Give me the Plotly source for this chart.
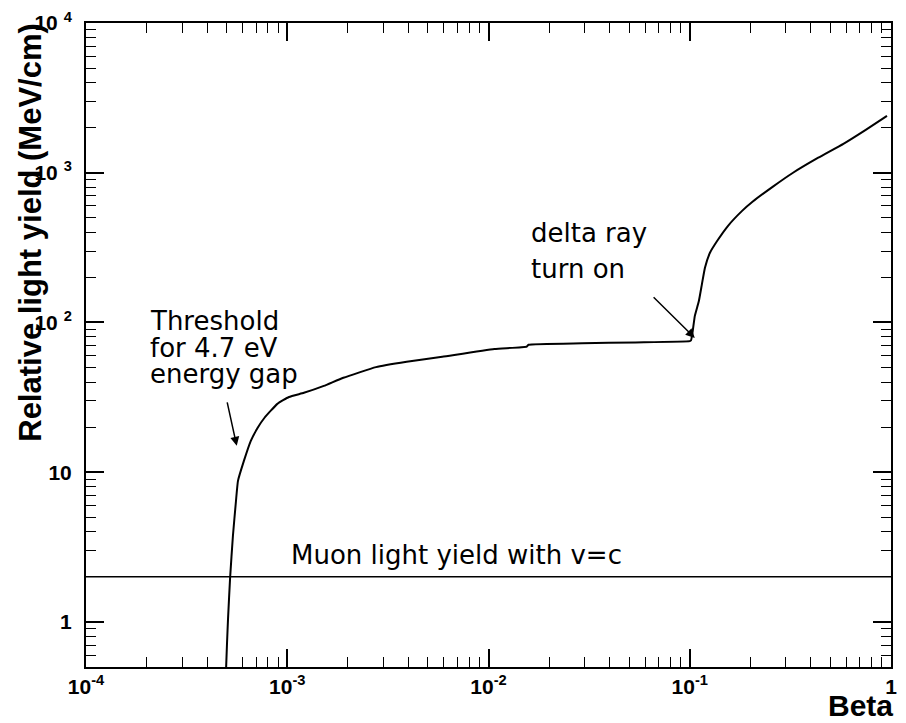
import numpy as np
import plotly.graph_objects as go

# ---- data ----
beta = [4.97e-4, 5.02e-4, 5.08e-4, 5.20e-4, 5.37e-4, 5.56e-4, 5.69e-4, 6.09e-4,
        6.59e-4, 7.13e-4, 7.71e-4, 8.93e-4, 1.02e-3, 1.21e-3, 1.52e-3, 1.90e-3,
        2.76e-3, 3.92e-3, 5.89e-3, 1.07e-2, 1.55e-2, 1.58e-2, 2.92e-2, 5.37e-2,
        0.1, 0.1015, 0.1035, 0.106, 0.111, 0.115, 0.119, 0.126, 0.137, 0.155,
        0.182, 0.205, 0.258, 0.326, 0.435, 0.580, 0.749, 0.955]
light_yield = [0.5, 0.724, 1.06, 1.97, 3.75, 6.4, 8.75, 11.9,
               16.2, 19.8, 23.1, 28.6, 31.8, 33.9, 37.7, 42.7,
               50.3, 54.6, 59.0, 66.5, 69.0, 71.0, 72.6, 73.6,
               75.0, 76.0, 88.0, 110.7, 139.0, 181.0, 232.0, 292.0, 351.0, 442.0,
               556.0, 640.0, 805.0, 1000.0, 1260.0, 1560.0, 1935.0, 2400.0]

muon_beta = [1e-4, 1.0]
muon_yield = [2.0, 2.0]

x_tickvals = [1e-4, 1e-3, 1e-2, 1e-1, 1]
x_ticktext = ["10<sup>-4</sup>", "10<sup>-3</sup>", "10<sup>-2</sup>", "10<sup>-1</sup>", "1"]
y_tickvals = [1, 10, 100, 1000, 10000]
y_ticktext = ["1", "10", "10 <sup>2</sup>", "10 <sup>3</sup>", "10 <sup>4</sup>"]

x_minor = [m * 10.0 ** e for e in range(-4, 0) for m in range(2, 10)]
y_minor = [m * 10.0 ** e for e in range(-1, 4) for m in range(2, 10)]

X_RANGE = [-4, 0]
Y_RANGE = [np.log10(0.5), 4]

fig = go.Figure()
fig.add_trace(go.Scatter(x=beta, y=light_yield, mode="lines",
                         line=dict(color="black", width=2, shape="spline", smoothing=0.4),
                         showlegend=False))
fig.add_trace(go.Scatter(x=muon_beta, y=muon_yield, mode="lines",
                         line=dict(color="black", width=1.5), showlegend=False))
# empty trace to carry the minor-tick overlay axes
fig.add_trace(go.Scatter(x=[], y=[], xaxis="x2", yaxis="y2", showlegend=False,
                         hoverinfo="skip"))

tickfont = dict(family="Liberation Sans, Arial, sans-serif", size=21, color="black", weight="bold")
axis_common = dict(showgrid=False, zeroline=False, showline=True, linecolor="black",
                   linewidth=2, mirror="ticks", ticks="inside", ticklen=18,
                   tickwidth=1.5, tickcolor="black", tickfont=tickfont)
minor_common = dict(showgrid=False, zeroline=False, showline=False, mirror="ticks",
                    ticks="inside", ticklen=10, tickwidth=1.2, tickcolor="black",
                    showticklabels=False, tickmode="array")

fig.update_layout(
    xaxis=dict(type="log", range=X_RANGE, tickmode="array", tickvals=x_tickvals,
               ticktext=x_ticktext, **axis_common),
    yaxis=dict(type="log", range=Y_RANGE, tickmode="array", tickvals=y_tickvals,
               ticktext=y_ticktext, ticklabelstandoff=8, **axis_common),
    xaxis2=dict(type="log", range=X_RANGE, overlaying="x", anchor="y2", side="bottom",
                tickvals=x_minor, **minor_common),
    yaxis2=dict(type="log", range=Y_RANGE, overlaying="y", anchor="x2", side="left",
                tickvals=y_minor, **minor_common),
)

note_font = dict(family="DejaVu Sans, sans-serif", size=26, color="black")
title_font = dict(family="Liberation Sans, Arial, sans-serif", size=31, color="black", weight="bold")

annotations = []
for txt, xx, yy in [("Threshold", -3.690, 2.011), ("for 4.7 eV", -3.690, 1.830),
                    ("energy gap", -3.690, 1.657), ("delta ray", -1.798, 2.599),
                    ("turn on", -1.798, 2.358), ("Muon light yield with v=c", -2.990, 0.448)]:
    annotations.append(dict(x=xx, y=yy, xref="x", yref="y", text=txt, showarrow=False,
                            xanchor="left", yanchor="middle", font=note_font))
annotations.append(dict(x=-3.251, y=1.176, ax=-3.300, ay=1.476, xref="x", yref="y",
                        axref="x", ayref="y", text="", showarrow=True, arrowhead=2,
                        arrowsize=1.2, arrowwidth=1.5, arrowcolor="black"))
annotations.append(dict(x=-0.975, y=1.897, ax=-1.187, ay=2.178, xref="x", yref="y",
                        axref="x", ayref="y", text="", showarrow=True, arrowhead=2,
                        arrowsize=1.2, arrowwidth=1.5, arrowcolor="black"))
annotations.append(dict(x=-0.069, y=0.675, xref="paper", yref="paper",
                        text="Relative light yield (MeV/cm)", textangle=-90, showarrow=False,
                        xanchor="center", yanchor="middle", font=title_font))
annotations.append(dict(x=0.962, y=-0.060, xref="paper", yref="paper", text="Beta",
                        showarrow=False, xanchor="center", yanchor="middle",
                        font=dict(family="Liberation Sans, Arial, sans-serif", size=30,
                                  color="black", weight="bold")))

fig.update_layout(width=906, height=723, margin=dict(l=86, r=9, t=22, b=56),
                  plot_bgcolor="white", paper_bgcolor="white", annotations=annotations)

fig.write_html("out.html")
